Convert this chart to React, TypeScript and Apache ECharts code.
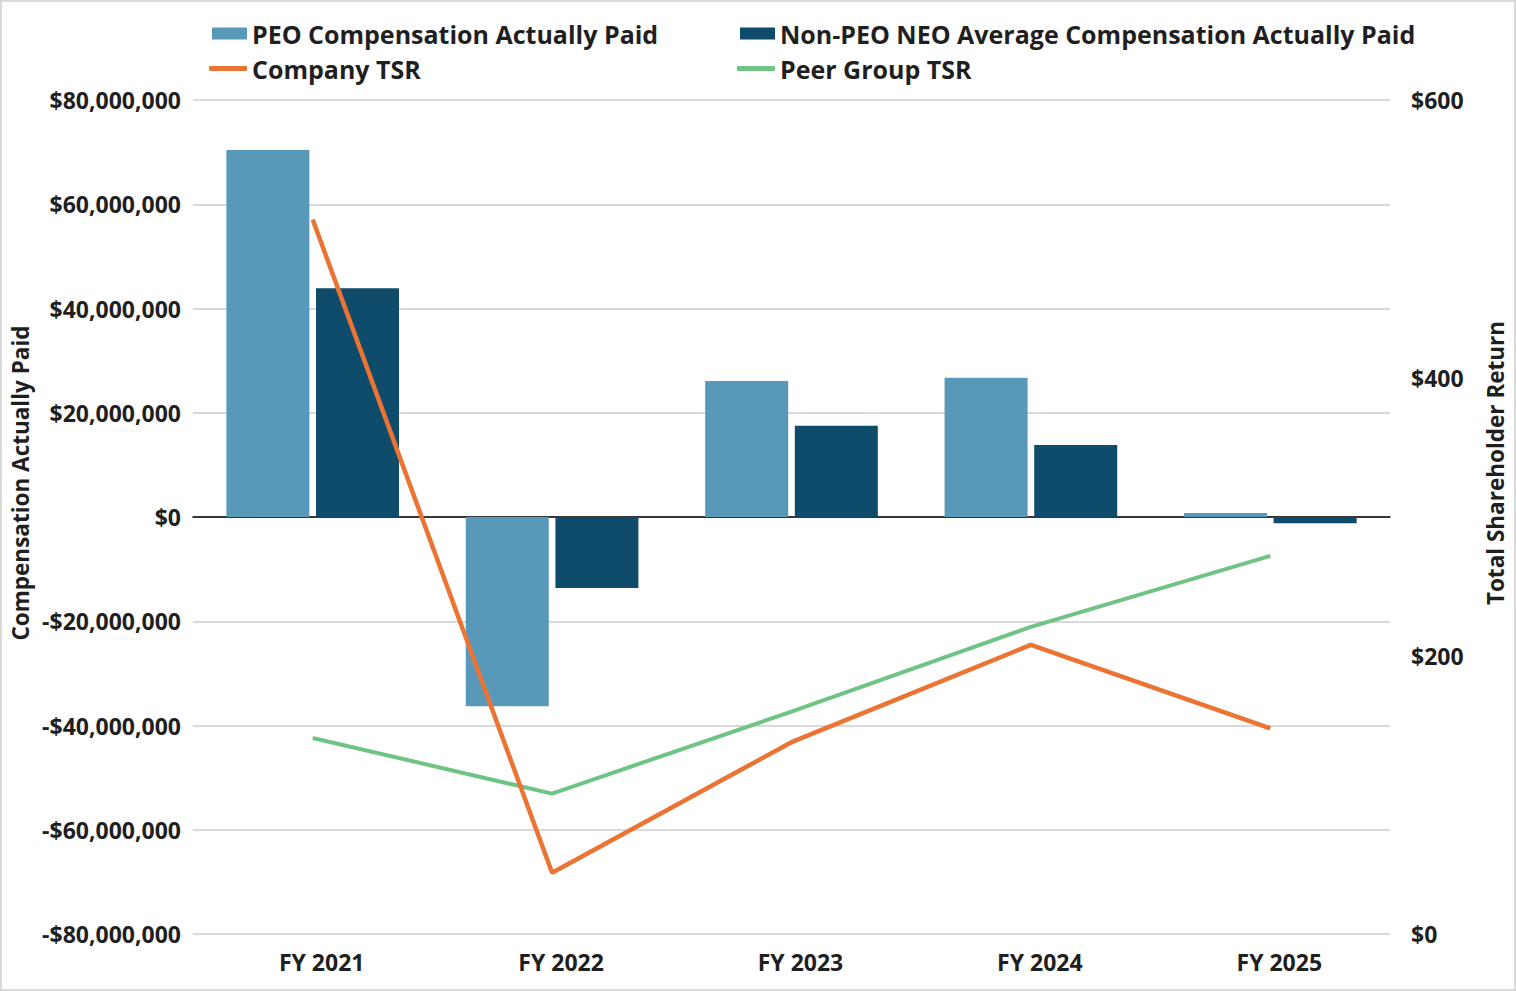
import React, { useEffect, useRef } from "react";
import * as echarts from "echarts";

const categories = ["FY 2021", "FY 2022", "FY 2023", "FY 2024", "FY 2025"];
const peoCap = [70400000, -36300000, 26100000, 26700000, 770000];
const neoCap = [43900000, -13600000, 17500000, 13800000, -1200000];
const companyTsr = [514, 44, 138, 208, 148];
const peerTsr = [141, 101, 160, 221, 272];

const FONT = "'Open Sans', 'Noto Sans', sans-serif";
const TXT = "#1f1f1f";

function fmtMoney(v: number): string {
  if (v === 0) return "$0";
  const s = Math.abs(v).toLocaleString("en-US");
  return (v < 0 ? "-$" : "$") + s;
}

export default function App() {
  const ref = useRef<HTMLDivElement>(null);
  useEffect(() => {
    document.body.style.margin = "0";
    const chart = echarts.init(ref.current!, undefined, { renderer: "svg" });
    const legendText = { fontFamily: FONT, fontWeight: "bold", fontSize: 25, color: TXT };
    chart.setOption({
      animation: false,
      backgroundColor: "#ffffff",
      grid: { left: 193, right: 126, top: 100, bottom: 57, containLabel: false },
      legend: [
        { left: 207, top: 16, itemWidth: 35, itemHeight: 12, textStyle: legendText, data: [{ name: "PEO Compensation Actually Paid", icon: "rect" }] },
        { left: 735, top: 16, itemWidth: 35, itemHeight: 12, textStyle: legendText, data: [{ name: "Non-PEO NEO Average Compensation Actually Paid", icon: "rect" }] },
        { left: 204, top: 51, itemWidth: 38, itemHeight: 5, textStyle: legendText, data: [{ name: "Company TSR", icon: "roundRect" }] },
        { left: 732, top: 51, itemWidth: 38, itemHeight: 5, textStyle: legendText, data: [{ name: "Peer Group TSR", icon: "roundRect" }] },
      ],
      xAxis: {
        type: "category",
        data: categories,
        axisLine: { onZero: true, onZeroAxisIndex: 0, lineStyle: { color: "#000000", width: 1.5 } },
        axisTick: { show: false },
        axisLabel: { fontFamily: FONT, fontWeight: "bold", fontSize: 23, color: TXT, margin: 16, padding: [0, 0, 0, 18] },
      },
      yAxis: [
        {
          type: "value",
          min: -80000000,
          max: 80000000,
          interval: 20000000,
          axisLine: { show: false },
          axisTick: { show: false },
          splitLine: { lineStyle: { color: "#d9d9d9", width: 2 } },
          axisLabel: { fontFamily: FONT, fontWeight: "bold", fontSize: 23, color: TXT, margin: 12, formatter: (v: number) => fmtMoney(v) },
        },
        {
          type: "value",
          min: 0,
          max: 600,
          interval: 200,
          axisLine: { show: false },
          axisTick: { show: false },
          splitLine: { show: false },
          axisLabel: { fontFamily: FONT, fontWeight: "bold", fontSize: 23, color: TXT, margin: 21, formatter: (v: number) => "$" + v },
        },
      ],
      graphic: [
        {
          type: "text",
          x: 20,
          y: 483,
          rotation: Math.PI / 2,
          style: { text: "Compensation Actually Paid", fontFamily: FONT, fontWeight: "bold", fontSize: 22.5, fill: TXT, align: "center", verticalAlign: "middle" },
        },
        {
          type: "text",
          x: 1495,
          y: 463,
          rotation: Math.PI / 2,
          style: { text: "Total Shareholder Return", fontFamily: FONT, fontWeight: "bold", fontSize: 22.5, fill: TXT, align: "center", verticalAlign: "middle" },
        },
      ],
      series: [
        { name: "PEO Compensation Actually Paid", type: "bar", yAxisIndex: 0, data: peoCap, barWidth: 83, barGap: "8%", itemStyle: { color: "#5898b8" } },
        { name: "Non-PEO NEO Average Compensation Actually Paid", type: "bar", yAxisIndex: 0, data: neoCap, barWidth: 83, barGap: "8%", itemStyle: { color: "#0f4b6a" } },
        { name: "Company TSR", type: "line", yAxisIndex: 1, data: companyTsr, symbol: "none", itemStyle: { color: "#eb7434" }, lineStyle: { color: "#eb7434", width: 4.5 }, z: 5 },
        { name: "Peer Group TSR", type: "line", yAxisIndex: 1, data: peerTsr, symbol: "none", itemStyle: { color: "#6fc384" }, lineStyle: { color: "#6fc384", width: 4 }, z: 4 },
      ],
    });
    return () => chart.dispose();
  }, []);
  return (
    <>
      <div ref={ref} style={{ position: "fixed", left: 0, top: 0, width: 1516, height: 991, background: "#fff" }} />
      <div
        style={{ position: "fixed", left: 0, top: 0, width: 1516, height: 991, boxSizing: "border-box", border: "2px solid #d9d9d9", pointerEvents: "none", zIndex: 10 }}
      />
    </>
  );
}
